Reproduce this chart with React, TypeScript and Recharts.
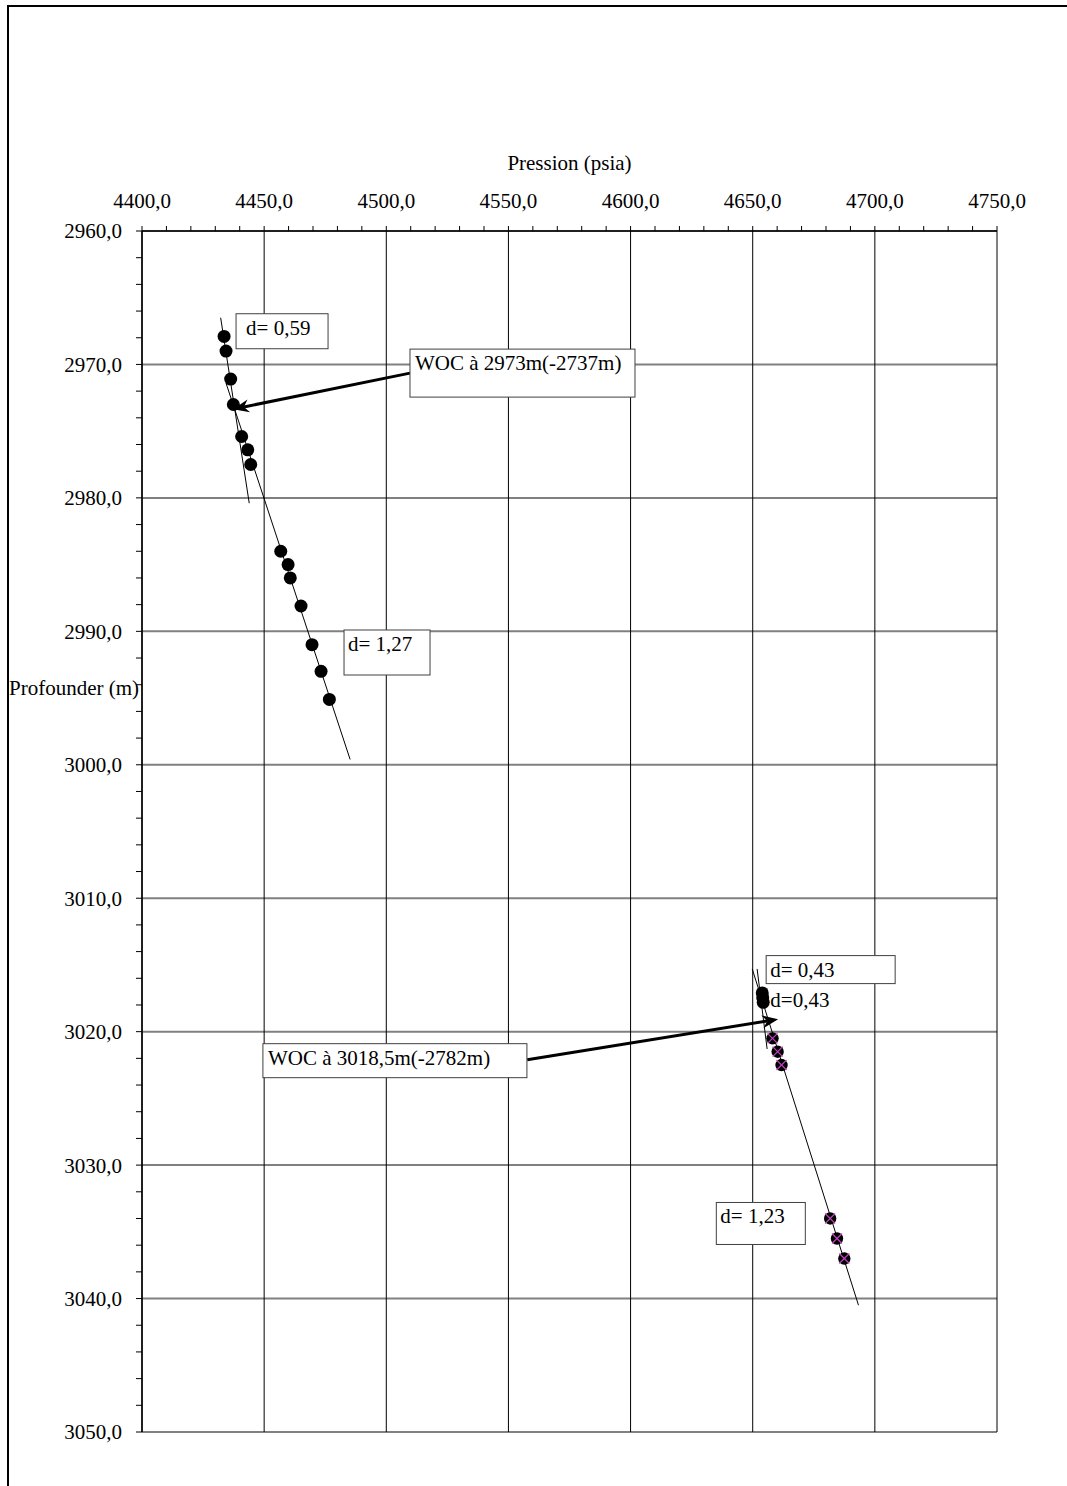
import React from 'react';
import {
  ComposedChart,
  XAxis,
  YAxis,
  Scatter,
  ReferenceLine,
  ReferenceDot,
} from 'recharts';

// ---- axes ----
const majorPressure = [4400, 4450, 4500, 4550, 4600, 4650, 4700, 4750];
const majorDepth = [2960, 2970, 2980, 2990, 3000, 3010, 3020, 3030, 3040, 3050];
const pressureTicks: number[] = [];
for (let v = 4400; v <= 4750; v += 10) pressureTicks.push(v);
const depthTicks: number[] = [];
for (let v = 2960; v <= 3050; v += 2) depthTicks.push(v);

// ---- measured points (pressure psia, depth m) ----
const upperGasPoints = [
  { p: 4433.6, d: 2967.9 },
  { p: 4434.4, d: 2969.0 },
  { p: 4436.3, d: 2971.1 },
  { p: 4437.4, d: 2973.0 },
  { p: 4440.8, d: 2975.4 },
  { p: 4443.3, d: 2976.4 },
  { p: 4444.5, d: 2977.5 },
];
const upperWaterPoints = [
  { p: 4456.8, d: 2984.0 },
  { p: 4459.8, d: 2985.0 },
  { p: 4460.7, d: 2986.0 },
  { p: 4465.1, d: 2988.1 },
  { p: 4469.6, d: 2991.0 },
  { p: 4473.3, d: 2993.0 },
  { p: 4476.7, d: 2995.1 },
];
const lowerOilPoints = [
  { p: 4653.9, d: 3017.1 },
  { p: 4654.1, d: 3017.45 },
  { p: 4654.3, d: 3017.8 },
];
const lowerWaterPoints = [
  { p: 4658.1, d: 3020.5 },
  { p: 4660.2, d: 3021.5 },
  { p: 4661.8, d: 3022.5 },
  { p: 4681.7, d: 3034.0 },
  { p: 4684.5, d: 3035.5 },
  { p: 4687.5, d: 3037.0 },
];

// ---- gradient trend lines ----
const trendLines = [
  [{ x: 4432.2, y: 2966.5 }, { x: 4443.9, y: 2980.4 }],
  [{ x: 4434.4, y: 2971.4 }, { x: 4485.2, y: 2999.6 }],
  [{ x: 4651.8, y: 3015.3 }, { x: 4655.9, y: 3021.3 }],
  [{ x: 4649.8, y: 3015.3 }, { x: 4693.3, y: 3040.5 }],
];

// ---- WOC arrows ----
const wocArrows = [
  [{ x: 4509.7, y: 2970.65 }, { x: 4437.3, y: 2973.35 }],
  [{ x: 4557.7, y: 3022.1 }, { x: 4660.4, y: 3019.07 }],
];

// ---- annotation texts (anchored top-left in data units) ----
const annotations = [
  { p: 4438.5, d: 2966.2, text: 'd= 0,59', box: true },
  { p: 4509.7, d: 2968.85, text: 'WOC à 2973m(-2737m)', box: true },
  { p: 4482.7, d: 2989.9, text: 'd= 1,27', box: true },
  { p: 4655.5, d: 3014.3, text: 'd= 0,43', box: true },
  { p: 4657.2, d: 3016.55, text: 'd=0,43', box: false },
  { p: 4449.5, d: 3020.9, text: 'WOC à 3018,5m(-2782m)', box: true },
  { p: 4635.1, d: 3032.8, text: 'd= 1,23', box: true },
];
const boxSizes = [
  { w: 92, h: 35, pad: 10 },
  { w: 225, h: 48, pad: 5 },
  { w: 86, h: 45, pad: 4 },
  { w: 129, h: 28, pad: 4 },
  { w: 0, h: 22, pad: 0 },
  { w: 264, h: 34, pad: 5 },
  { w: 89, h: 42, pad: 4 },
];

const FONT = '"Liberation Serif", "Times New Roman", serif';
const FS = 21;

const fmt = (v: number) => v.toFixed(1).replace('.', ',');

const BlackDot = (props: any) => {
  const { cx, cy } = props;
  if (cx == null || cy == null) return <g />;
  return <circle cx={cx} cy={cy} r={6.5} fill="#000" />;
};

const PurpleCross = (props: any) => {
  const { cx, cy } = props;
  if (cx == null || cy == null) return <g />;
  const s = 5;
  return (
    <g>
      <circle cx={cx} cy={cy} r={6.2} fill="#000" />
      <line x1={cx - s} y1={cy - s} x2={cx + s} y2={cy + s} stroke="#c040c0" strokeWidth={1.2} />
      <line x1={cx - s} y1={cy + s} x2={cx + s} y2={cy - s} stroke="#c040c0" strokeWidth={1.2} />
    </g>
  );
};

const makeArrow = () => (props: any) => {
  const { x1, y1, x2, y2 } = props;
  if ([x1, y1, x2, y2].some((v) => v == null || isNaN(v))) return <g />;
  const dx = x2 - x1;
  const dy = y2 - y1;
  const len = Math.sqrt(dx * dx + dy * dy);
  const ux = dx / len;
  const uy = dy / len;
  const nx = -uy;
  const ny = ux;
  const L = 16;
  const W = 6.5;
  const notch = 11;
  const bx = x2 - ux * L;
  const by = y2 - uy * L;
  const mx = x2 - ux * notch;
  const my = y2 - uy * notch;
  const pts = `${x2},${y2} ${bx + nx * W},${by + ny * W} ${mx},${my} ${bx - nx * W},${by - ny * W}`;
  return (
    <g>
      <line x1={x1} y1={y1} x2={mx} y2={my} stroke="#000" strokeWidth={3} />
      <polygon points={pts} fill="#000" />
    </g>
  );
};

const makeBox = (text: string, box: boolean, w: number, h: number, pad: number) => (props: any) => {
  const { cx, cy } = props;
  if (cx == null || cy == null) return <g />;
  return (
    <g>
      {box && (
        <rect x={cx} y={cy} width={w} height={h} fill="#fff" stroke="#404040" strokeWidth={1} />
      )}
      <text x={cx + pad} y={cy + 21} fontFamily={FONT} fontSize={FS} fill="#000">
        {text}
      </text>
    </g>
  );
};

export default function App() {
  return (
    <div
      style={{
        position: 'absolute',
        left: 0,
        top: 0,
        width: 1067,
        height: 1486,
        background: '#fff',
        overflow: 'hidden',
      }}
    >
      <div
        style={{
          position: 'absolute',
          left: 7,
          top: 5,
          width: 1080,
          height: 1500,
          borderTop: '2px solid #000',
          borderLeft: '2px solid #000',
        }}
      />
      <div style={{ position: 'absolute', left: 0, top: 0 }}>
        <ComposedChart
          width={1067}
          height={1486}
          margin={{ top: 171, left: 42, right: 70, bottom: 54 }}
        >
          <XAxis
            xAxisId={0}
            type="number"
            dataKey="p"
            orientation="top"
            domain={[4400, 4750]}
            ticks={pressureTicks}
            interval={0}
            allowDataOverflow
            height={60}
            tickSize={5}
            tickMargin={18}
            tickFormatter={(v: number) => (majorPressure.includes(v) ? fmt(v) : '')}
            tick={{ fontFamily: FONT, fontSize: FS, fill: '#000' }}
            axisLine={{ stroke: '#000', strokeWidth: 1.5 }}
            tickLine={{ stroke: '#000' }}
            label={{
              value: 'Pression (psia)',
              position: 'top',
              offset: 1,
              style: { fontFamily: FONT, fontSize: FS, fill: '#000' },
            }}
          />
          <YAxis
            yAxisId={0}
            type="number"
            dataKey="d"
            reversed
            domain={[2960, 3050]}
            ticks={depthTicks}
            interval={0}
            allowDataOverflow
            width={100}
            tickSize={6}
            tickMargin={14}
            tickFormatter={(v: number) => (majorDepth.includes(v) ? fmt(v) : '')}
            tick={{ fontFamily: FONT, fontSize: FS, fill: '#000' }}
            axisLine={{ stroke: '#000', strokeWidth: 1.5 }}
            tickLine={{ stroke: '#000' }}
          />

          {majorDepth.map((v) => (
            <ReferenceLine key={'h' + v} y={v} stroke="#808080" strokeWidth={2} ifOverflow="visible" />
          ))}
          {majorPressure.map((v) => (
            <ReferenceLine key={'v' + v} x={v} stroke="#000" strokeWidth={1} ifOverflow="visible" />
          ))}

          {trendLines.map((seg, i) => (
            <ReferenceLine
              key={'t' + i}
              segment={seg}
              stroke="#000"
              strokeWidth={1}
              ifOverflow="visible"
            />
          ))}

          <Scatter data={upperGasPoints} dataKey="d" shape={BlackDot} isAnimationActive={false} />
          <Scatter data={upperWaterPoints} dataKey="d" shape={BlackDot} isAnimationActive={false} />
          <Scatter data={lowerOilPoints} dataKey="d" shape={BlackDot} isAnimationActive={false} />
          <Scatter data={lowerWaterPoints} dataKey="d" shape={PurpleCross} isAnimationActive={false} />

          {wocArrows.map((seg, i) => (
            <ReferenceLine
              key={'a' + i}
              segment={seg}
              ifOverflow="visible"
              shape={makeArrow()}
            />
          ))}

          {annotations.map((a, i) => (
            <ReferenceDot
              key={'b' + i}
              x={a.p}
              y={a.d}
              r={1}
              ifOverflow="visible"
              shape={makeBox(a.text, a.box, boxSizes[i].w, boxSizes[i].h, boxSizes[i].pad)}
            />
          ))}
        </ComposedChart>
      </div>
      <div
        style={{
          position: 'absolute',
          left: 9,
          top: 676,
          fontFamily: FONT,
          fontSize: FS,
          color: '#000',
          whiteSpace: 'nowrap',
          lineHeight: '24px',
        }}
      >
        Profounder (m)
      </div>
    </div>
  );
}
